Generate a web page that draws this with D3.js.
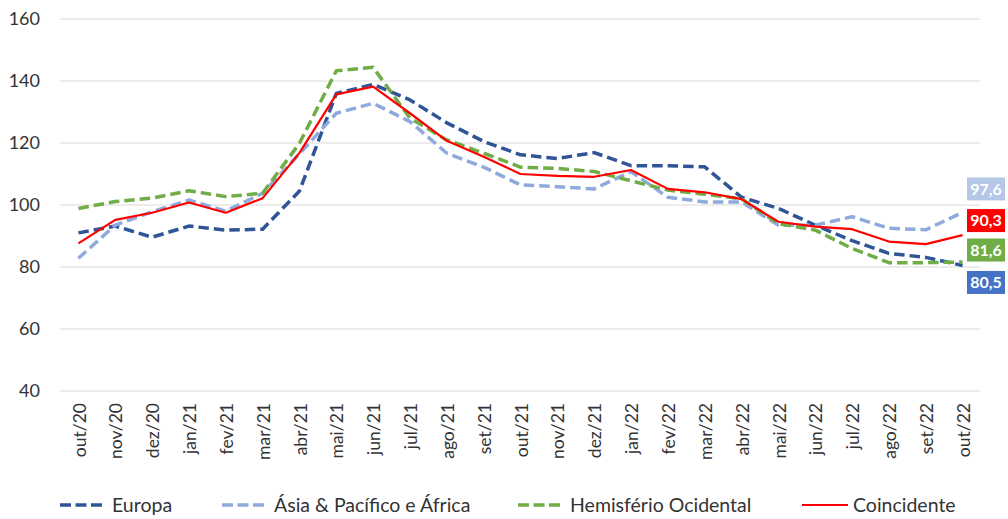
<!DOCTYPE html>
<html>
<head>
<meta charset="utf-8">
<script src="https://cdn.jsdelivr.net/npm/d3@7"></script>
<style>
  body { margin: 0; background: #fff; }
  svg { display: block; font-family: Lato, "Liberation Sans", sans-serif; }
</style>
</head>
<body>
<svg id="chart"></svg>
<script>
// months on the x axis
const months = ["out/20", "nov/20", "dez/20", "jan/21", "fev/21", "mar/21", "abr/21", "mai/21",
  "jun/21", "jul/21", "ago/21", "set/21", "out/21", "nov/21", "dez/21", "jan/22", "fev/22",
  "mar/22", "abr/22", "mai/22", "jun/22", "jul/22", "ago/22", "set/22", "out/22"];

const europa = [91.0, 93.2, 89.6, 93.2, 91.9, 92.2, 104.5, 136.0, 138.9, 133.9, 126.5, 120.5,
  116.2, 115.0, 116.9, 112.7, 112.7, 112.3, 102.5, 98.9, 93.5, 88.5, 84.4, 83.1, 80.5];
const asia = [82.8, 93.5, 97.8, 101.6, 98.0, 103.8, 116.5, 129.6, 132.8, 126.9, 116.7, 112.2,
  106.5, 105.9, 105.2, 110.8, 102.5, 101.0, 101.0, 93.5, 93.5, 96.2, 92.5, 92.0, 97.6];
const hemisferio = [98.9, 101.1, 102.2, 104.6, 102.7, 103.8, 119.9, 143.3, 144.4, 128.0, 121.0, 116.7,
  112.2, 111.8, 110.8, 107.8, 104.8, 103.5, 102.0, 94.0, 91.9, 86.0, 81.4, 81.4, 81.6];
const coincidente = [87.6, 95.2, 97.5, 100.8, 97.5, 102.2, 116.8, 135.7, 138.2, 129.6, 120.7, 115.6,
  110.0, 109.4, 109.1, 111.3, 105.2, 104.1, 101.9, 94.6, 93.0, 92.2, 88.2, 87.4, 90.3];

const yTicks = [40, 60, 80, 100, 120, 140, 160];

const series = [
  { name: "Europa", values: europa, color: "#2F5597", label: "#4472C4", dash: true, legendX: 60, labelDy: 17 },
  { name: "Ásia & Pacífico e África", values: asia, color: "#8FAADC", label: "#B4C7E7", dash: true, legendX: 222, labelDy: -23.5 },
  { name: "Hemisfério Ocidental", values: hemisferio, color: "#70AD47", label: "#70AD47", dash: true, legendX: 518, labelDy: -12 },
  { name: "Coincidente", values: coincidente, color: "#FF0000", label: "#FF0000", dash: false, legendX: 802, labelDy: -14.5 }
];

const width = 1008, height = 519;
const textColor = "#333";
const svg = d3.select("#chart").attr("width", width).attr("height", height);

const x = d3.scaleBand().domain(months).range([60, 981]);
const y = d3.scaleLinear().domain([40, 160]).range([391, 19]);
const cx = d => x(d) + x.bandwidth() / 2;

// gridlines
svg.append("g")
  .selectAll("line")
  .data(yTicks)
  .join("line")
  .attr("x1", 60).attr("x2", 980)
  .attr("y1", d => y(d)).attr("y2", d => y(d))
  .attr("stroke", "#D9D9D9").attr("stroke-width", 1);

// y axis labels
const yAxis = svg.append("g")
  .attr("transform", "translate(60,0)")
  .call(d3.axisLeft(y).tickValues(yTicks).tickSize(0).tickPadding(20));
yAxis.select(".domain").remove();
yAxis.selectAll("text")
  .attr("font-size", 18).attr("fill", textColor).attr("font-family", "Lato, sans-serif");

// x axis labels (rotated)
const xAxis = svg.append("g")
  .attr("transform", "translate(0,391)")
  .call(d3.axisBottom(x).tickSize(0));
xAxis.select(".domain").remove();
xAxis.selectAll("text")
  .attr("font-size", 17.5).attr("fill", textColor).attr("font-family", "Lato, sans-serif")
  .attr("text-anchor", "end")
  .attr("transform", "rotate(-90)")
  .attr("x", -12).attr("y", 1).attr("dy", "0.35em");

// lines
const line = d3.line()
  .x((d, i) => cx(months[i]))
  .y(d => y(d));

svg.append("g")
  .selectAll("path")
  .data(series)
  .join("path")
  .attr("d", s => line(s.values))
  .attr("fill", "none")
  .attr("stroke", s => s.color)
  .attr("stroke-width", s => s.dash ? 3.5 : 2.2)
  .attr("stroke-dasharray", s => s.dash ? "10.5,5" : null)
  .attr("stroke-linejoin", "round");

// end value labels
const lab = svg.append("g")
  .selectAll("g")
  .data(series)
  .join("g")
  .attr("transform", s => `translate(986,${y(s.values[s.values.length - 1]) + s.labelDy})`);
lab.append("rect")
  .attr("x", -19).attr("y", -11.5).attr("width", 38).attr("height", 23)
  .attr("fill", s => s.label);
lab.append("text")
  .attr("text-anchor", "middle").attr("dy", "0.36em")
  .attr("font-size", 16).attr("font-weight", "bold").attr("fill", "#fff")
  .text(s => d3.format(".1f")(s.values[s.values.length - 1]).replace(".", ","));

// legend
const leg = svg.append("g")
  .selectAll("g")
  .data(series)
  .join("g")
  .attr("transform", s => `translate(${s.legendX},505)`);
leg.append("line")
  .attr("x1", 0).attr("x2", 46)
  .attr("stroke", s => s.color)
  .attr("stroke-width", s => s.dash ? 3.5 : 2.2)
  .attr("stroke-dasharray", s => s.dash ? "11,4.5" : null);
leg.append("text")
  .attr("x", s => s.dash ? 52 : 51).attr("dy", "0.35em")
  .attr("font-size", 19.5).attr("fill", textColor)
  .text(s => s.name);
</script>
</body>
</html>
